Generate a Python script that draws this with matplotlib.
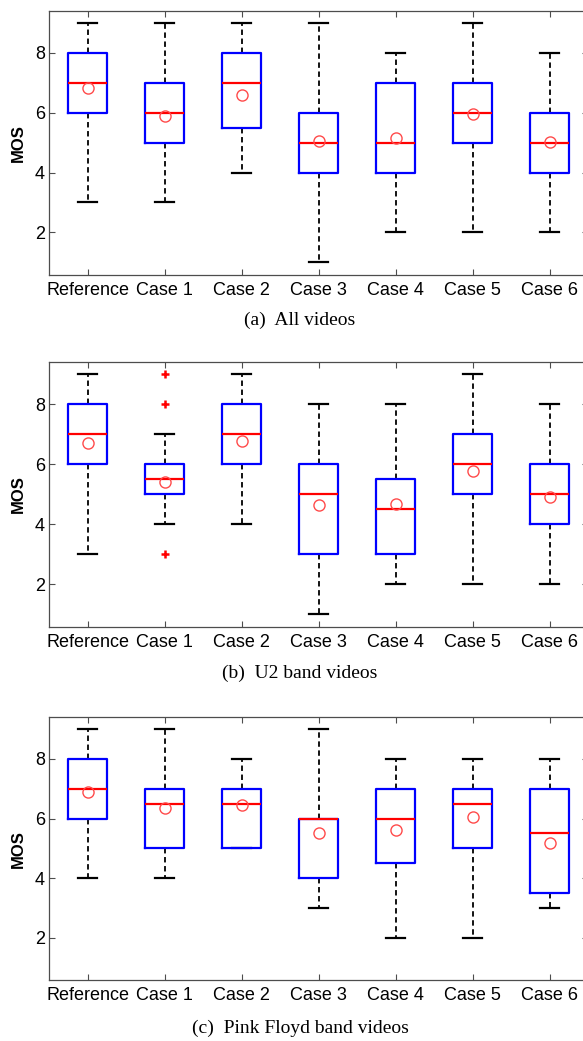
import numpy as np
import matplotlib
matplotlib.use("Agg")
import matplotlib.pyplot as plt

# categories shared by all three panels
cases = ["Reference", "Case 1", "Case 2", "Case 3", "Case 4", "Case 5", "Case 6"]

# (a) All videos
a_low = [3, 3, 4, 1, 2, 2, 2]
a_q1 = [6, 5, 5.5, 4, 4, 5, 4]
a_med = [7, 6, 7, 5, 5, 6, 5]
a_q3 = [8, 7, 8, 6, 7, 7, 6]
a_high = [9, 9, 9, 9, 8, 9, 8]
a_mean = [6.82, 5.89, 6.60, 5.05, 5.16, 5.95, 5.02]
a_out = [[], [], [], [], [], [], []]

# (b) U2 band videos
b_low = [3, 4, 4, 1, 2, 2, 2]
b_q1 = [6, 5, 6, 3, 3, 5, 4]
b_med = [7, 5.5, 7, 5, 4.5, 6, 5]
b_q3 = [8, 6, 8, 6, 5.5, 7, 6]
b_high = [9, 7, 9, 8, 8, 9, 8]
b_mean = [6.72, 5.40, 6.77, 4.64, 4.66, 5.78, 4.89]
b_out = [[], [9, 8, 3], [], [], [], [], []]

# (c) Pink Floyd band videos
c_low = [4, 4, 5, 3, 2, 2, 3]
c_q1 = [6, 5, 5, 4, 4.5, 5, 3.5]
c_med = [7, 6.5, 6.5, 6, 6, 6.5, 5.5]
c_q3 = [8, 7, 7, 6, 7, 7, 7]
c_high = [9, 9, 8, 9, 8, 8, 8]
c_mean = [6.90, 6.34, 6.45, 5.50, 5.63, 6.06, 5.17]
c_out = [[], [], [], [], [], [], []]

captions = ["(a)  All videos", "(b)  U2 band videos", "(c)  Pink Floyd band videos"]

panels = [
    (a_low, a_q1, a_med, a_q3, a_high, a_mean, a_out),
    (b_low, b_q1, b_med, b_q3, b_high, b_mean, b_out),
    (c_low, c_q1, c_med, c_q3, c_high, c_mean, c_out),
]

W, H = 583, 1041
fig = plt.figure(figsize=(W / 100, H / 100), dpi=100)

# axes boxes in pixels: (top, bottom), caption centre y
ax_px = [(10.7, 275), (362.3, 626.7), (717.3, 980)]
cap_y = [320, 673, 1028]
left_px, right_px = 49, 588

spine_col = "#4d4d4d"
tick_font = "Liberation Sans"

for (top, bot), cy, cap, data in zip(ax_px, cap_y, captions, panels):
    low, q1, med, q3, high, mean, out = data
    ax = fig.add_axes([left_px / W, 1 - bot / H, (right_px - left_px) / W, (bot - top) / H])

    stats = []
    for i in range(len(cases)):
        stats.append(dict(whislo=low[i], q1=q1[i], med=med[i], q3=q3[i],
                          whishi=high[i], mean=mean[i], fliers=out[i]))

    ax.bxp(stats, positions=range(1, 8), widths=0.5, showmeans=True,
           boxprops=dict(color="blue", linewidth=1.6, zorder=3),
           medianprops=dict(color="red", linewidth=1.6, zorder=4),
           whiskerprops=dict(color="black", linewidth=1.3, linestyle=(0, (3, 2)), zorder=2),
           capprops=dict(color="black", linewidth=1.6, zorder=2),
           capwidths=0.25,
           meanprops=dict(marker="o", markerfacecolor="none", markeredgecolor="#ff4a4a",
                          markersize=8, markeredgewidth=1.0, zorder=5),
           flierprops=dict(marker="+", markeredgecolor="red", markersize=6,
                           markeredgewidth=1.8))

    ax.set_xlim(0.5, 7.5)
    ax.set_ylim(0.58, 9.4)
    ax.set_yticks([2, 4, 6, 8])
    ax.set_xticks(range(1, 8))
    ax.set_xticklabels(cases)

    for s in ax.spines.values():
        s.set_color(spine_col)
        s.set_linewidth(0.9)
    ax.tick_params(direction="in", length=4, width=0.8, color=spine_col,
                   top=True, right=True, labelsize=13)
    ax.tick_params(axis="x", pad=5)
    ax.tick_params(axis="y", pad=3)
    for lab in ax.get_xticklabels() + ax.get_yticklabels():
        lab.set_fontfamily(tick_font)

    ax.set_ylabel("MOS", fontsize=12, fontweight="bold", family=tick_font, va="center")
    ax.yaxis.set_label_coords((18 - left_px) / (right_px - left_px), 0.5)

    fig.text(300 / W, 1 - cy / H, cap, ha="center", va="center",
             fontsize=14, family="Liberation Serif")

fig.savefig("out.png", dpi=100)
